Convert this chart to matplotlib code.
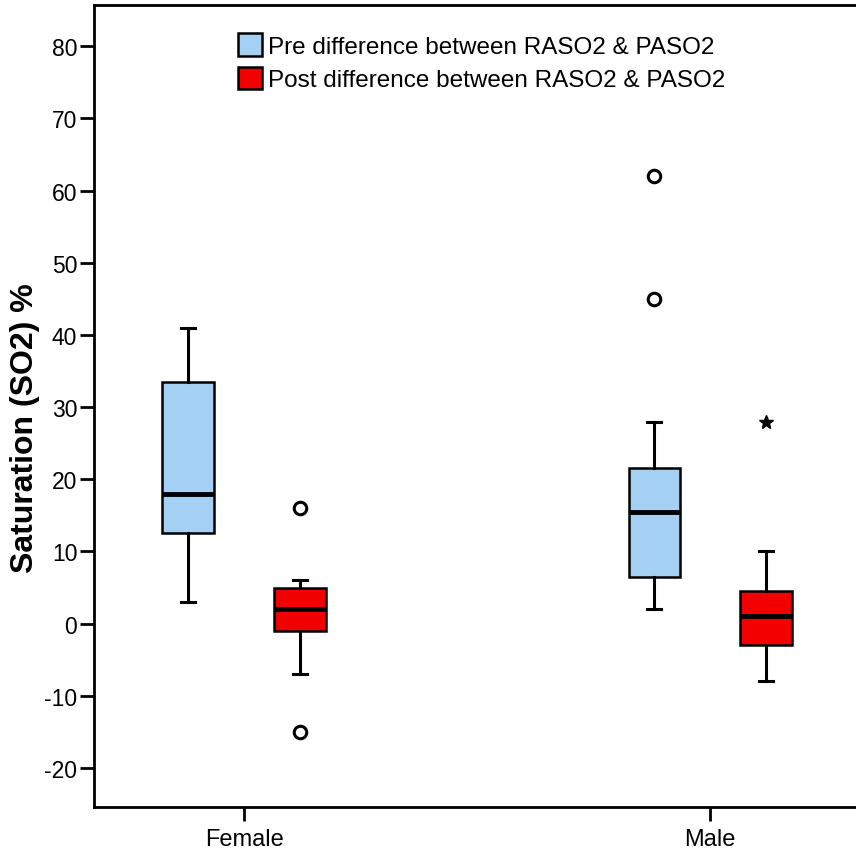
import matplotlib.pyplot as plt
from matplotlib.patches import Patch

plt.rcParams["font.family"] = ["Liberation Sans", "DejaVu Sans"]
plt.rcParams["axes.unicode_minus"] = False

groups = ["Female", "Male"]
series = ["Pre difference between RASO2 & PASO2", "Post difference between RASO2 & PASO2"]
colors = ["#a3d0f3", "#f20000"]

# five-number summaries per group: [pre, post]
whislo = [[3, -7], [2, -8]]
q1 = [[12.5, -1], [6.5, -3]]
med = [[18, 2], [15.5, 1]]
q3 = [[33.5, 5], [21.5, 4.5]]
whishi = [[41, 6], [28, 10]]
outliers = [[[], [16, -15]], [[62, 45], []]]
extremes = [[[], []], [[], [28]]]

offset = 0.12
box_w = 0.11

fig = plt.figure(figsize=(8.56, 8.54), dpi=100)
ax = fig.add_axes([0.1098, 0.0539, 0.895, 0.939])

for s in range(2):
    stats = []
    pos = []
    for g in range(2):
        stats.append(dict(med=med[g][s], q1=q1[g][s], q3=q3[g][s],
                          whislo=whislo[g][s], whishi=whishi[g][s],
                          fliers=outliers[g][s]))
        pos.append(g + (2 * s - 1) * offset)
    ax.bxp(stats, positions=pos, widths=box_w, patch_artist=True,
           showcaps=True,
           boxprops=dict(facecolor=colors[s], edgecolor="black", linewidth=1.8),
           medianprops=dict(color="black", linewidth=3.5),
           whiskerprops=dict(color="black", linewidth=2.2),
           capprops=dict(color="black", linewidth=2.2),
           capwidths=0.03,
           flierprops=dict(marker="o", markersize=9, markerfacecolor="white",
                           markeredgecolor="black", markeredgewidth=2.2))
    for g in range(2):
        if extremes[g][s]:
            ax.plot([g + (2 * s - 1) * offset] * len(extremes[g][s]), extremes[g][s],
                    linestyle="none", marker="*", markersize=10, color="black")

ax.set_xlim(-0.322, 1.322)
ax.set_ylim(-25.4, 85.7)
ax.set_xticks([0, 1])
ax.set_xticklabels(groups, fontsize=17)
ax.set_yticks(range(-20, 81, 10))
ax.tick_params(axis="y", labelsize=16.5, length=10, width=2, direction="out", pad=2)
ax.tick_params(axis="x", length=10, width=2, direction="out", pad=5)
for side in ["left", "bottom", "top", "right"]:
    ax.spines[side].set_linewidth(2)
ax.set_ylabel("Saturation (SO2) %", fontsize=23, fontweight="bold")
ax.yaxis.set_label_coords(-0.07, 0.474)

handles = [Patch(facecolor=colors[i], edgecolor="black", linewidth=1.8) for i in range(2)]
ax.legend(handles, series, loc="upper left", bbox_to_anchor=(0.188, 0.965),
          frameon=False, fontsize=17.5, handlelength=1.0, handleheight=1.05,
          handletextpad=0.25, labelspacing=0.38, borderaxespad=0, borderpad=0)

fig.savefig("out.png", dpi=100)
